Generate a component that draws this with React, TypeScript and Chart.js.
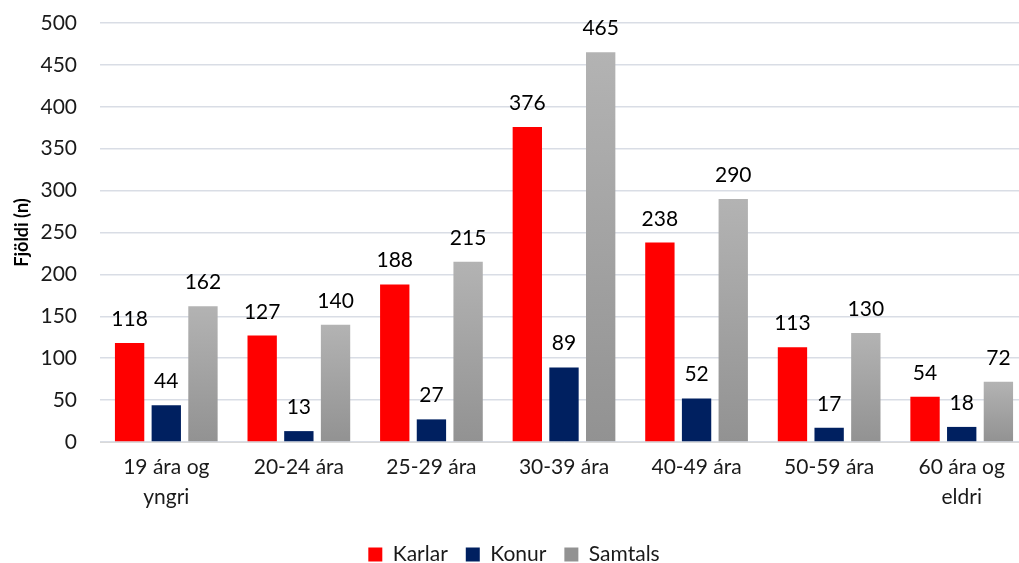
import React, { useEffect, useRef } from "react";
import { Chart, registerables } from "chart.js";

Chart.register(...registerables);

const categories: (string | string[])[] = [
  ["19 ára og", "yngri"],
  "20-24 ára",
  "25-29 ára",
  "30-39 ára",
  "40-49 ára",
  "50-59 ára",
  ["60 ára og", "eldri"],
];
const karlar = [118, 127, 188, 376, 238, 113, 54];
const konur = [44, 13, 27, 89, 52, 17, 18];
const samtals = [162, 140, 215, 465, 290, 130, 72];
const yTicks = [0, 50, 100, 150, 200, 250, 300, 350, 400, 450, 500];

const FONT = "Lato, 'Noto Sans', sans-serif";

const greyGradient = (ctx: any) => {
  const chart = ctx.chart;
  const c = chart.ctx;
  const ys = chart.scales?.y;
  if (!ys || !chart.chartArea) return "#a6a6a6";
  let top = chart.chartArea.top;
  const bottom = ys.getPixelForValue(0);
  if (ctx.type === "data") top = ys.getPixelForValue(ctx.raw as number);
  if (!isFinite(top) || !isFinite(bottom) || bottom - top < 1) return "#a6a6a6";
  const g = c.createLinearGradient(0, top, 0, bottom);
  g.addColorStop(0, "#b3b3b3");
  g.addColorStop(1, "#929292");
  return g;
};

const labelPlugin = {
  id: "barLabels",
  afterDatasetsDraw(chart: any) {
    const c = chart.ctx;
    c.save();
    c.font = `21px ${FONT}`;
    c.fillStyle = "#000000";
    c.textAlign = "center";
    c.textBaseline = "alphabetic";
    chart.data.datasets.forEach((ds: any, i: number) => {
      const meta = chart.getDatasetMeta(i);
      meta.data.forEach((el: any, j: number) => {
        c.fillText(String(ds.data[j]), el.x, el.y - 17);
      });
    });
    c.restore();
  },
};

export default function App() {
  const ref = useRef<HTMLCanvasElement>(null);
  useEffect(() => {
    document.body.style.margin = "0";
    const chart = new Chart(ref.current!, {
      type: "bar",
      data: {
        labels: categories,
        datasets: [
          { label: "Karlar", data: karlar, backgroundColor: "#ff0000" },
          { label: "Konur", data: konur, backgroundColor: "#002060" },
          { label: "Samtals", data: samtals, backgroundColor: greyGradient },
        ],
      },
      options: {
        animation: false,
        responsive: false,
        maintainAspectRatio: false,
        datasets: { bar: { categoryPercentage: 0.83, barPercentage: 0.8 } },
        layout: { padding: { top: 23, right: 2, left: 0, bottom: -12 } },
        plugins: {
          tooltip: { enabled: false },
          legend: {
            position: "bottom",
            labels: {
              font: { family: FONT, size: 21 },
              color: "#1a1a1a",
              boxWidth: 14,
              boxHeight: 14,
              padding: 18,
            },
          },
        },
        scales: {
          x: {
            afterFit: (s: any) => {
              s.height = 84;
            },
            grid: { display: false },
            border: { color: "#d9d9d9" },
            ticks: {
              font: { family: FONT, size: 21, lineHeight: 1.45 },
              color: "#1a1a1a",
              padding: 2,
              maxRotation: 0,
              autoSkip: false,
            },
          },
          y: {
            min: 0,
            max: 500,
            afterFit: (s: any) => {
              s.width = 100;
              s.paddingTop = 0;
              s.paddingBottom = 0;
            },
            afterBuildTicks: (s: any) => {
              s.ticks = yTicks.map((v) => ({ value: v }));
            },
            grid: { color: "#d9dde5", lineWidth: 1.5, drawTicks: false },
            border: { display: false },
            ticks: {
              font: { family: FONT, size: 21 },
              color: "#1a1a1a",
              padding: 23,
            },
            title: {
              display: true,
              text: "Fjöldi (n)",
              font: { family: FONT, size: 18, weight: "bold" },
              color: "#000000",
              padding: { top: 11, bottom: 0 },
            },
          },
        },
      },
      plugins: [labelPlugin],
    });
    return () => chart.destroy();
  }, []);
  return (
    <div style={{ position: "fixed", left: 0, top: 0, width: 1019, height: 563, overflow: "hidden", background: "#fff" }}>
      <canvas ref={ref} width={1030} height={563} style={{ display: "block" }} />
    </div>
  );
}
